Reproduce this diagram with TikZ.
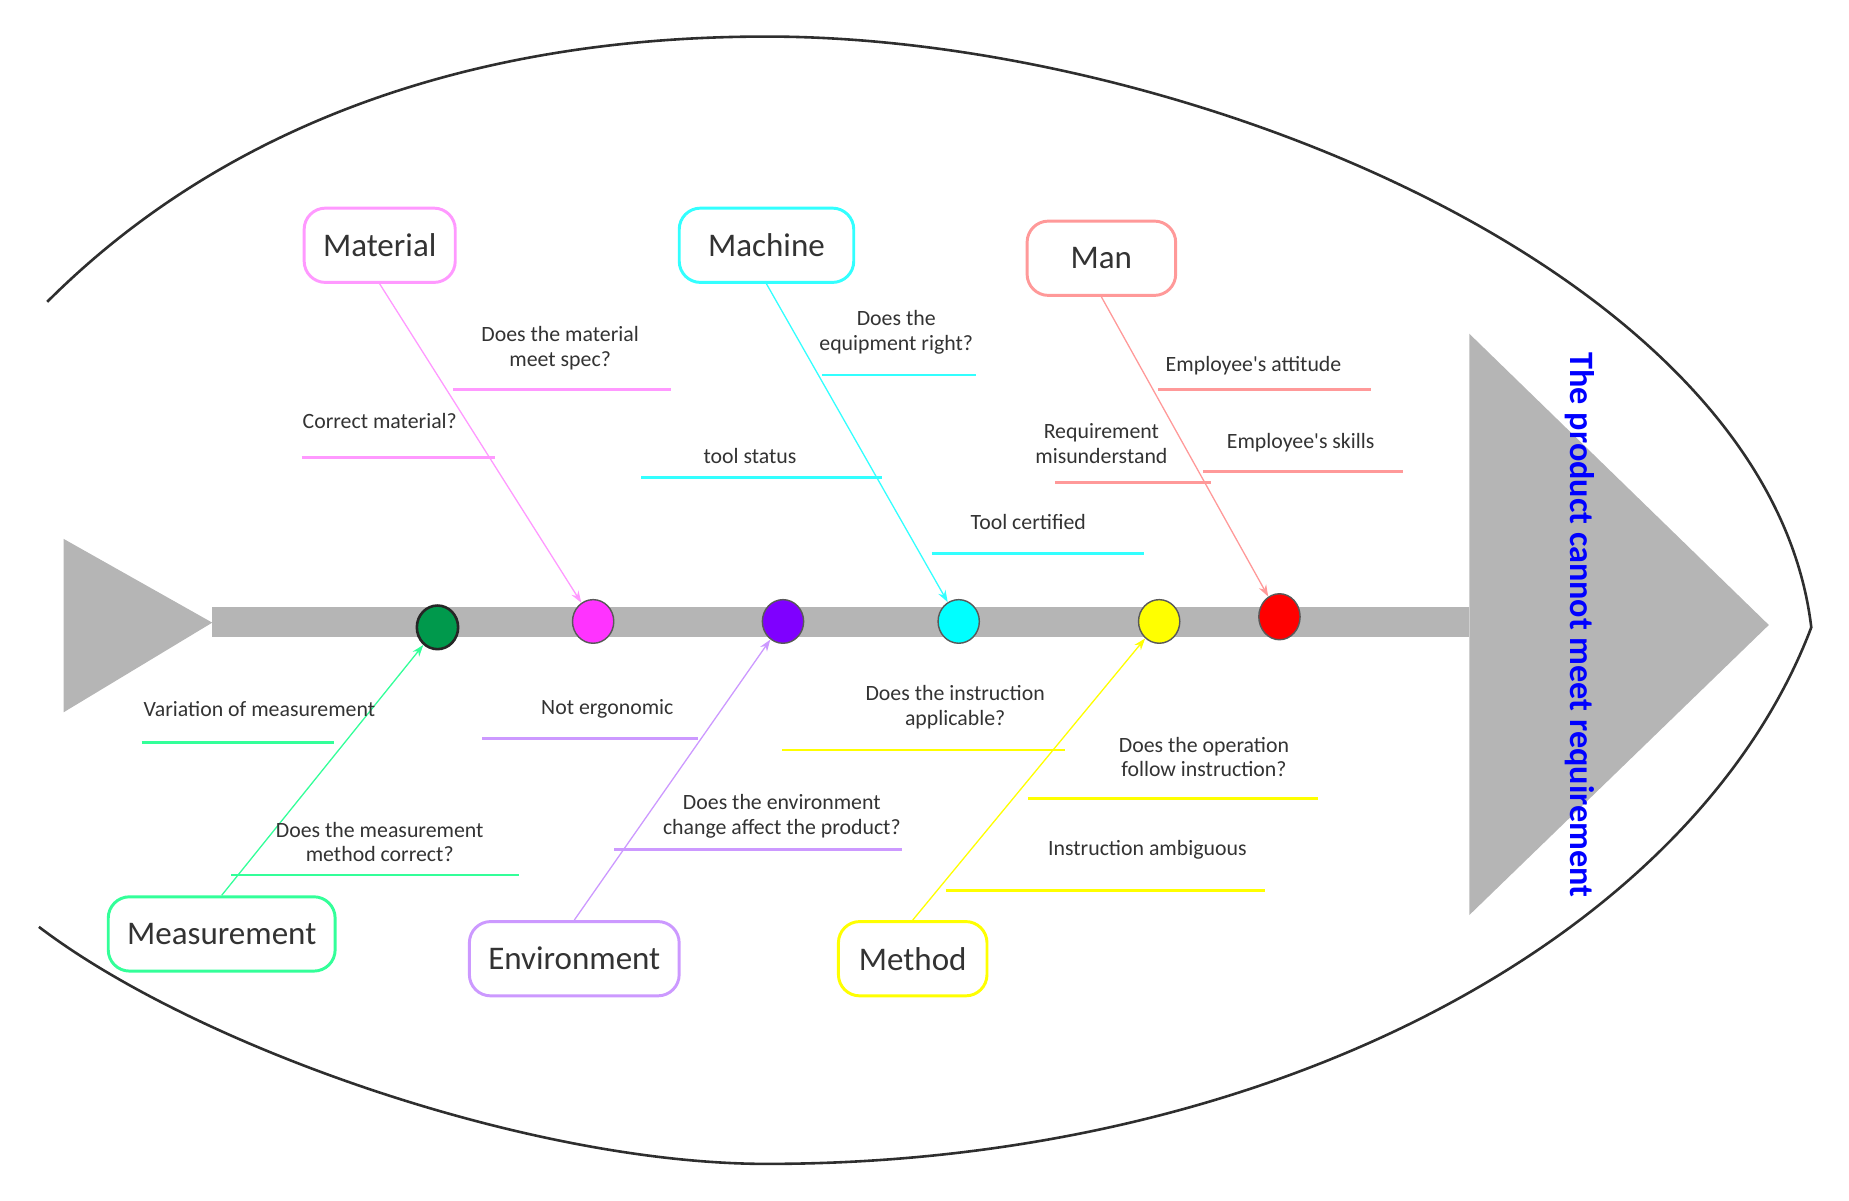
\documentclass[tikz,border=0pt]{standalone}
\usepackage{fontspec}
\setmainfont{Carlito}
\usetikzlibrary{arrows.meta, positioning, shapes.geometric}
\definecolor{fishgray}{HTML}{B5B5B5}
\definecolor{pinkc}{HTML}{FF99FF}
\definecolor{cyanc}{HTML}{33FFFF}
\definecolor{salmonc}{HTML}{FF9999}
\definecolor{greenc}{HTML}{33FF99}
\definecolor{lavc}{HTML}{CC99FF}
\definecolor{yelc}{HTML}{FFFF00}
\definecolor{dgreen}{HTML}{00994C}
\definecolor{magc}{HTML}{FF33FF}
\definecolor{violc}{HTML}{7F00FF}
\definecolor{aquac}{HTML}{00FFFF}
\definecolor{redc}{HTML}{FF0000}
\definecolor{titleblue}{HTML}{0000FF}
\tikzset{
  catbox/.style={rectangle, rounded corners=18pt, draw=#1, line width=2.5pt,
                 fill=white, text=black!80, font=\fontsize{28}{32}\selectfont,
                 minimum width=126pt, minimum height=63pt, inner xsep=16pt},
  dot/.style={ellipse, fill=#1, draw=black!65, line width=1.2pt,
              minimum width=35pt, minimum height=37pt, inner sep=0pt},
  arr/.style={-{Stealth[length=10pt, width=7pt]}, line width=1.1pt, #1},
  bone/.style={line width=2.5pt, #1},
  lbl/.style={font=\fontsize{18.5}{21}\selectfont, text=black!80,
              align=center, inner sep=0pt},
  outline/.style={draw=black!82, line width=2.2pt},
  effect/.style={font=\bfseries\fontsize{29}{32}\selectfont, text=titleblue,
                 rotate=-90, inner sep=0pt},
}
\begin{document}
\begin{tikzpicture}[x=1pt, y=-1pt]
  \useasboundingbox (0,0) rectangle (1568,1018);
  %% fish body
  \draw[outline] (40,256) .. controls (190,106) and (400,31) .. (650,31)
    .. controls (1000,31) and (1500,230) .. (1536,532)
    .. controls (1437,793) and (1080,987) .. (650,987)
    .. controls (450,987) and (167,888) .. (33,786);
  \fill[fishgray] (54,457) -- (180,528) -- (54,604) -- cycle;
  \fill[fishgray] (180,515) rectangle (1246,540);
  \fill[fishgray] (1246,283) -- (1500,530) -- (1246,776) -- cycle;
  \node[effect] (problem) at (1340,530) {The product cannot meet requirement};
  %% points on the spine
  \node[dot=dgreen, draw=black!85, line width=2.2pt] (cmeas) at (371,532) {};
  \node[dot=magc]  (cmat)  at (503,527) {};
  \node[dot=violc] (cenv)  at (664,527) {};
  \node[dot=aquac] (cmach) at (813,527) {};
  \node[dot=yelc]  (cmeth) at (983,527) {};
  \node[dot=redc, minimum height=39pt] (cman) at (1085,523) {};
  %% categories
  \node[catbox=pinkc]   (mat)  at (322,208) {Material};
  \node[catbox=cyanc, minimum width=148pt] (mach) at (650,208) {Machine};
  \node[catbox=salmonc] (man)  at (934,219) {Man};
  \node[catbox=greenc]  (meas) at (188,792) {Measurement};
  \node[catbox=lavc]    (env)  at (487,813) {Environment};
  \node[catbox=yelc]    (meth) at (774,813) {Method};
  \foreach \a/\b/\c in {mat/cmat/pinkc,mach/cmach/cyanc,man/cman/salmonc}
    \draw[arr=\c] (\a.south) -- (\b);
  \foreach \a/\b/\c in {meas/cmeas/greenc,env/cenv/lavc,meth/cmeth/yelc}
    \draw[arr=\c] (\a.north) -- (\b);
  %% Material
  \foreach \n/\xa/\xb/\y/\lx/\ly/\t in {
      ma1/384/569/330/475/295/{Does the material\\meet spec?},
      ma2/256/420/388/322/357/{Correct material?}} {
    \coordinate (\n-l) at (\xa,\y);
    \coordinate (\n-r) at (\xb,\y);
    \draw[bone=pinkc] (\n-l) -- (\n-r);
    \node[lbl] (\n) at (\lx,\ly) {\t};
  }
  %% Machine
  \foreach \n/\xa/\xb/\y/\lx/\ly/\t in {
      mc1/697/828/318/760/282/{Does the\\equipment right?},
      mc2/544/748/405/636/387/{tool status},
      mc3/790/970/469/872/443/{Tool certified}} {
    \coordinate (\n-l) at (\xa,\y);
    \coordinate (\n-r) at (\xb,\y);
    \draw[bone=cyanc] (\n-l) -- (\n-r);
    \node[lbl] (\n) at (\lx,\ly) {\t};
  }
  %% Man
  \foreach \n/\xa/\xb/\y/\lx/\ly/\t in {
      mn1/982/1163/330/1063/310/{Employee\textquotesingle s attitude},
      mn2/1020/1190/400/1103/375/{Employee\textquotesingle s skills},
      mn3/895/1027/409/934/376/{Requirement\\misunderstand}} {
    \coordinate (\n-l) at (\xa,\y);
    \coordinate (\n-r) at (\xb,\y);
    \draw[bone=salmonc] (\n-l) -- (\n-r);
    \node[lbl] (\n) at (\lx,\ly) {\t};
  }
  %% Measurement
  \foreach \n/\xa/\xb/\y/\lx/\ly/\t in {
      me1/120/283/630/220/601/{Variation of measurement},
      me2/196/440/742/322/714/{Does the measurement\\method correct?}} {
    \coordinate (\n-l) at (\xa,\y);
    \coordinate (\n-r) at (\xb,\y);
    \draw[bone=greenc] (\n-l) -- (\n-r);
    \node[lbl] (\n) at (\lx,\ly) {\t};
  }
  %% Environment
  \foreach \n/\xa/\xb/\y/\lx/\ly/\t in {
      en1/409/592/626/515/601/{Not ergonomic},
      en2/521/765/720/663/692/{Does the environment\\change affect the product?}} {
    \coordinate (\n-l) at (\xa,\y);
    \coordinate (\n-r) at (\xb,\y);
    \draw[bone=lavc] (\n-l) -- (\n-r);
    \node[lbl] (\n) at (\lx,\ly) {\t};
  }
  %% Method
  \foreach \n/\xa/\xb/\y/\lx/\ly/\t in {
      mt1/663/903/636/810/600/{Does the instruction\\applicable?},
      mt2/872/1118/677/1021/642/{Does the operation\\follow instruction?},
      mt3/802/1073/755/973/721/{Instruction ambiguous}} {
    \coordinate (\n-l) at (\xa,\y);
    \coordinate (\n-r) at (\xb,\y);
    \draw[bone=yelc] (\n-l) -- (\n-r);
    \node[lbl] (\n) at (\lx,\ly) {\t};
  }
\end{tikzpicture}
\end{document}
